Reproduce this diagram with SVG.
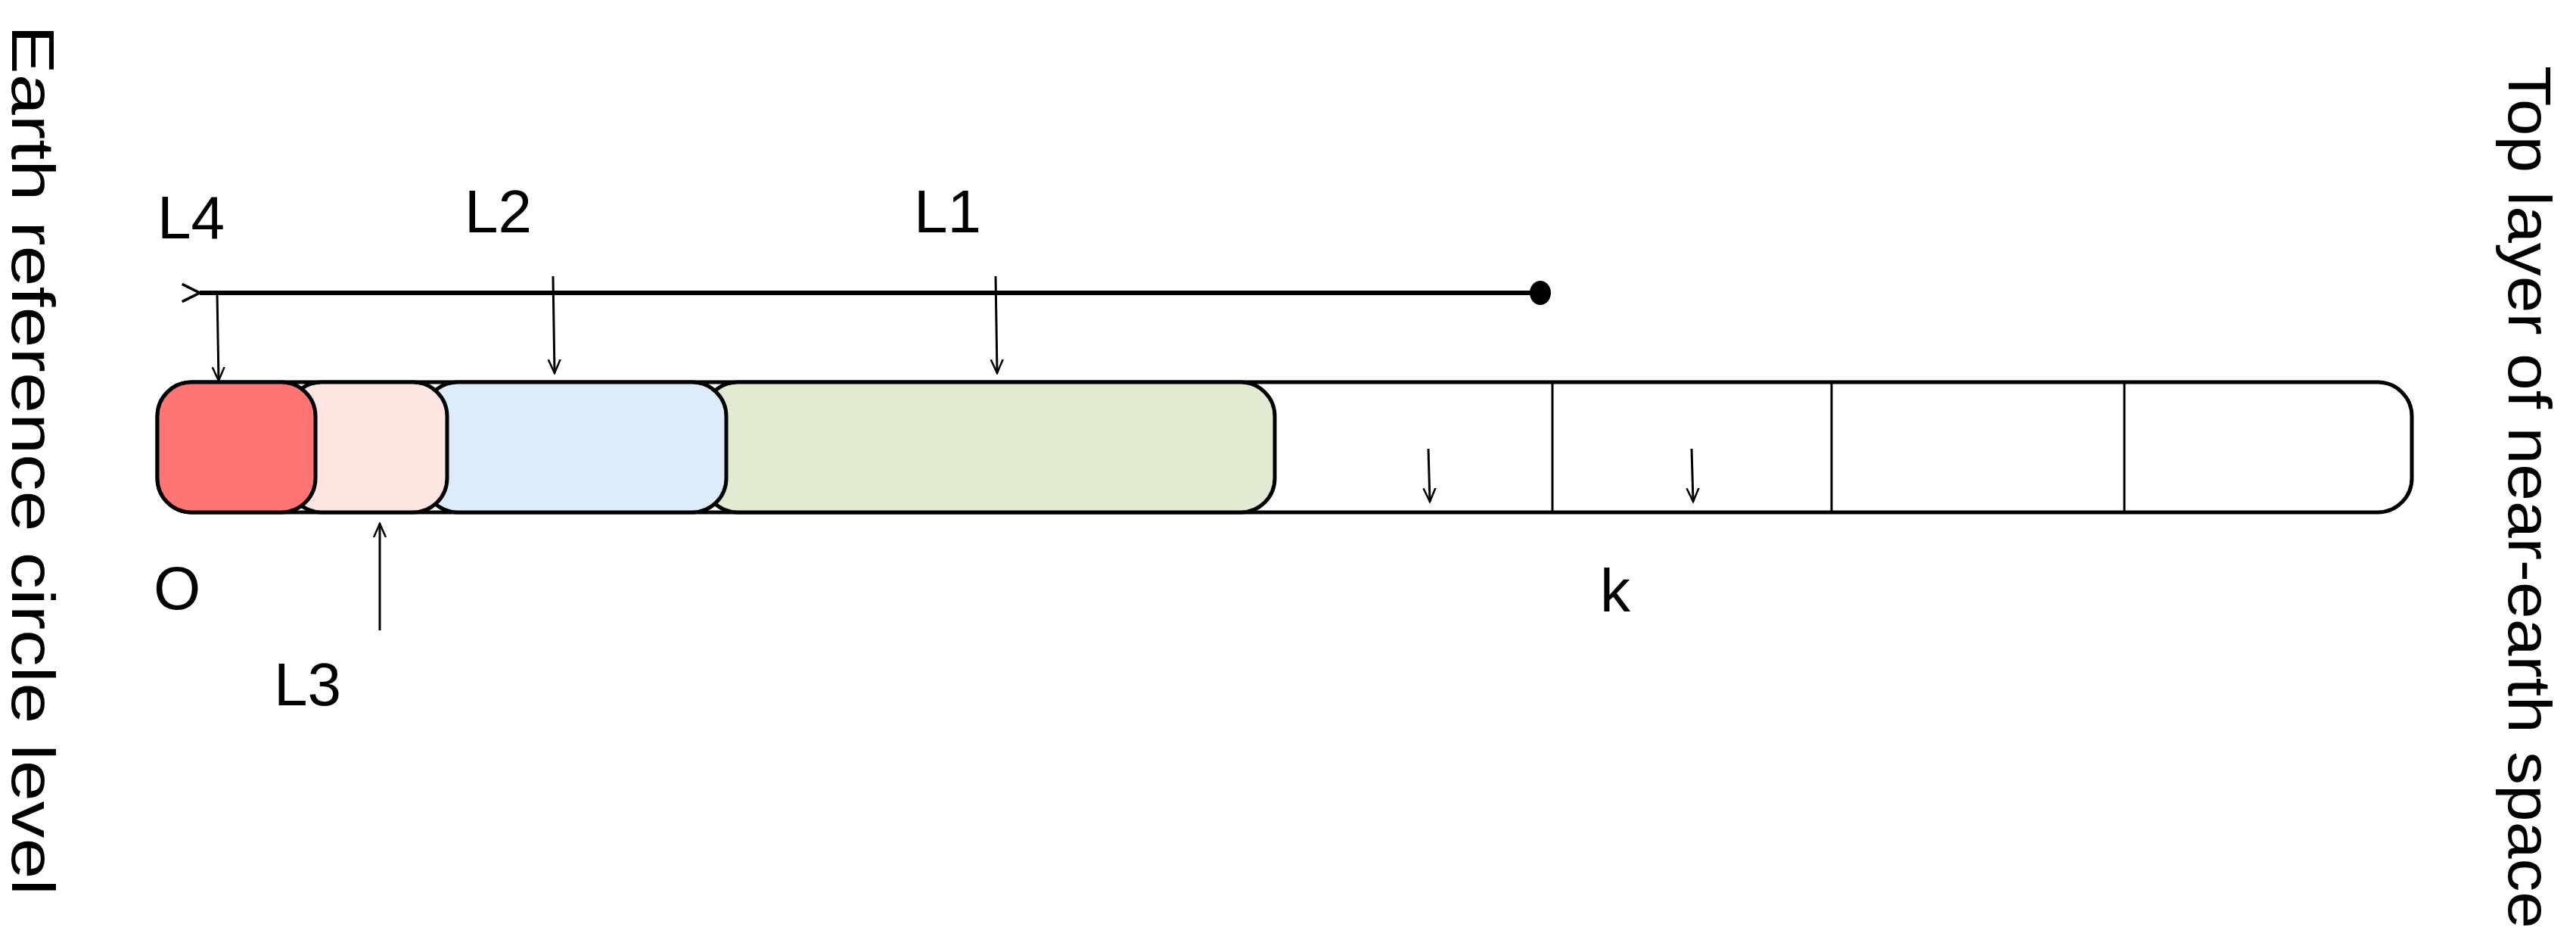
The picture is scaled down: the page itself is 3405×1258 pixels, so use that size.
<svg xmlns="http://www.w3.org/2000/svg" width="3405" height="1258" viewBox="0 0 3405 1258">
<defs>
<style>
text{font-family:"Liberation Sans",Arial,sans-serif;fill:#000;font-size:80px}
.seg{stroke:#000;stroke-width:5}
.ln{stroke:#000;stroke-width:3;fill:none}
</style>
<marker id="open" viewBox="0 0 20 20" refX="18" refY="10" markerWidth="20" markerHeight="20" markerUnits="userSpaceOnUse" orient="auto"><path d="M0,2 L18,10 L0,18" fill="none" stroke="#000" stroke-width="2.5"/></marker>
<marker id="openL" viewBox="0 0 24 24" refX="2" refY="12" markerWidth="28" markerHeight="28" markerUnits="userSpaceOnUse" orient="auto"><path d="M22,2 L2,12 L22,22" fill="none" stroke="#000" stroke-width="3"/></marker>
</defs>
<rect width="3405" height="1258" fill="#fff"/>
<g id="bar">
<rect x="208" y="505" width="2980" height="172" rx="45" fill="#fff" class="seg"/>
<rect x="1580" y="505" width="105" height="172" rx="45" fill="#fff" stroke="none"/>
<rect x="930" y="505" width="755" height="172" rx="45" fill="#e0ebd1" class="seg"/>
<rect x="560" y="505" width="400" height="172" rx="45" fill="#dcecfb" class="seg"/>
<rect x="380" y="505" width="211" height="172" rx="45" fill="#fde6e2" class="seg"/>
<rect x="208" y="505" width="209" height="172" rx="45" fill="#ff7474" class="seg"/>
<line x1="2052" y1="505" x2="2052" y2="677" class="ln"/>
<line x1="2421" y1="505" x2="2421" y2="677" class="ln"/>
<line x1="2808" y1="505" x2="2808" y2="677" class="ln"/>
</g>
<g id="connectors">
<line x1="2035" y1="387" x2="264" y2="387" stroke="#000" stroke-width="6" marker-end="url(#openL)"/>
<ellipse cx="2036" cy="387" rx="14" ry="16" fill="#000"/>
<line x1="287" y1="387" x2="289" y2="503" class="ln" marker-end="url(#open)"/>
<line x1="731" y1="365" x2="733" y2="493" class="ln" marker-end="url(#open)"/>
<line x1="1316" y1="365" x2="1318" y2="493" class="ln" marker-end="url(#open)"/>
<line x1="1888" y1="593" x2="1890" y2="663" class="ln" marker-end="url(#open)"/>
<line x1="2236" y1="593" x2="2238" y2="663" class="ln" marker-end="url(#open)"/>
<line x1="502" y1="833" x2="502" y2="692" class="ln" marker-end="url(#open)"/>
</g>
<g id="labels">
<text x="208" y="315">L4</text>
<text x="614" y="307">L2</text>
<text x="1208" y="307">L1</text>
<text x="203" y="805">O</text>
<text x="362" y="932">L3</text>
<text x="2115" y="808">k</text>
<text transform="translate(16,33) rotate(90)" textLength="1150" lengthAdjust="spacingAndGlyphs">Earth reference circle level</text>
<text transform="translate(3316,87) rotate(90)" textLength="1140" lengthAdjust="spacingAndGlyphs">Top layer of near-earth space</text>
</g>
</svg>
